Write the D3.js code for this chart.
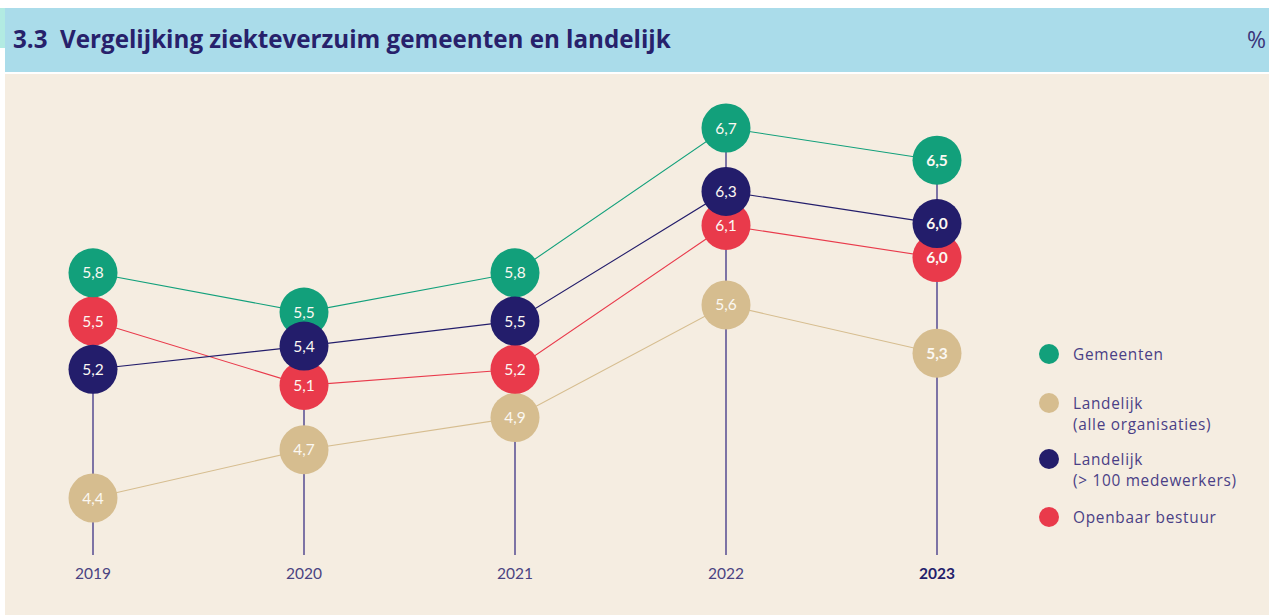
<!DOCTYPE html>
<html>
<head>
<meta charset="utf-8">
<script src="https://cdn.jsdelivr.net/npm/d3@7"></script>
<style>
  html, body { margin: 0; padding: 0; background: #ffffff; }
  svg { display: block; }
  text { font-family: Lato, "Open Sans", sans-serif; }
</style>
</head>
<body>
<svg id="chart" width="1269" height="615"></svg>
<script>
// ---- data ----
const years = ["2019", "2020", "2021", "2022", "2023"];
const gemeenten = [5.8, 5.5, 5.8, 6.7, 6.5];
const landelijkAlle = [4.4, 4.7, 4.9, 5.6, 5.3];
const landelijk100 = [5.2, 5.4, 5.5, 6.3, 6.0];
const openbaarBestuur = [5.5, 5.1, 5.2, 6.1, 6.0];
const seriesNames = ["Gemeenten", "Landelijk (alle organisaties)", "Landelijk (> 100 medewerkers)", "Openbaar bestuur"];
const legendLines = [["Gemeenten"], ["Landelijk", "(alle organisaties)"], ["Landelijk", "(> 100 medewerkers)"], ["Openbaar bestuur"]];
const title = "3.3  Vergelijking ziekteverzuim gemeenten en landelijk";
const unit = "%";

// ---- styling ----
const colors = ["#12a07b", "#d6bd8f", "#231d6b", "#e93a4b"];
const drawOrder = [1, 3, 0, 2]; // beige, red, green, navy on top
const W = 1269, H = 615;
const R = 24.5, minGap = 34;

const svg = d3.select("#chart");
svg.append("rect").attr("x", 0).attr("y", 0).attr("width", W).attr("height", H).attr("fill", "#ffffff");
// body
svg.append("rect").attr("x", 5).attr("y", 74).attr("width", W - 5).attr("height", H - 74).attr("fill", "#f5ede1");
// title bar
svg.append("rect").attr("x", 0).attr("y", 8).attr("width", 5).attr("height", 40).attr("fill", "#b2ebe2");
svg.append("rect").attr("x", 5).attr("y", 8).attr("width", W - 5).attr("height", 64).attr("fill", "#aadcea");
const titleText = svg.append("text").attr("x", 13).attr("y", 48).attr("font-size", 22).attr("font-weight", 700)
  .style("font-family", "'Open Sans', sans-serif")
  .attr("fill", "#27216b").style("white-space", "pre").text(title);
{
  const w = titleText.node().getComputedTextLength();
  titleText.attr("font-size", 22 * 658 / w);
}
svg.append("text").attr("x", 1247).attr("y", 48).attr("font-size", 23)
  .style("font-family", "'Open Sans', sans-serif")
  .attr("fill", "#3b357a").text(unit);

// ---- scales ----
const x = d3.scalePoint().domain(years).range([93, 937]);
const y = d3.scaleLinear().domain([4.4, 6.7]).range([498, 128]);
const axisY = 555;

const allSeries = [gemeenten, landelijkAlle, landelijk100, openbaarBestuur];

// compute positions with collision relaxation per year
const pos = allSeries.map(() => []);
years.forEach((yr, i) => {
  let pts = allSeries.map((s, k) => ({k, v: s[i], y: y(s[i])}));
  const rank = [0, 3, 1, 2];
  pts.sort((a, b) => (a.y - b.y) || (rank[a.k] - rank[b.k]));
  for (let it = 0; it < 50; it++) {
    let moved = false;
    for (let j = 1; j < pts.length; j++) {
      const d = pts[j].y - pts[j - 1].y;
      if (d < minGap - 0.01) {
        const push = (minGap - d) / 2;
        pts[j - 1].y -= push; pts[j].y += push; moved = true;
      }
    }
    if (!moved) break;
  }
  pts.forEach(p => { pos[p.k][i] = p.y; });
});

// vertical stems
const stems = svg.append("g");
years.forEach((yr, i) => {
  const top = d3.min(pos, p => p[i]);
  stems.append("line").attr("x1", x(yr)).attr("x2", x(yr))
    .attr("y1", top).attr("y2", axisY)
    .attr("stroke", "#4a3f8c").attr("stroke-width", 1.4);
});

// connecting lines
const line = d3.line().x(d => d[0]).y(d => d[1]);
drawOrder.forEach(k => {
  svg.append("path")
    .attr("d", line(years.map((yr, i) => [x(yr), pos[k][i]])))
    .attr("fill", "none").attr("stroke", colors[k]).attr("stroke-width", 1.1);
});

// circles + labels
const fmt = v => d3.format(".1f")(v).replace(".", ",");
drawOrder.forEach(k => {
  const g = svg.append("g");
  years.forEach((yr, i) => {
    g.append("circle").attr("cx", x(yr)).attr("cy", pos[k][i]).attr("r", R).attr("fill", colors[k]);
    g.append("text").attr("x", x(yr)).attr("y", pos[k][i] + 5.5)
      .attr("text-anchor", "middle").attr("font-size", 15.5)
      .attr("font-weight", i === years.length - 1 ? 700 : 400)
      .attr("fill", "#fbf8f2").text(fmt(allSeries[k][i]));
  });
});

// x axis labels
svg.append("g").selectAll("text").data(years).join("text")
  .attr("x", d => x(d)).attr("y", 579).attr("text-anchor", "middle")
  .attr("font-size", 15.5).attr("font-weight", (d, i) => i === years.length - 1 ? 700 : 400)
  .attr("fill", (d, i) => i === years.length - 1 ? "#231d6b" : "#4a4382").text(d => d);

// legend
const legendY = [354, 403, 459, 517];
const lg = svg.append("g");
legendLines.forEach((lines, k) => {
  lg.append("circle").attr("cx", 1049).attr("cy", legendY[k]).attr("r", 10).attr("fill", colors[k]);
  lines.forEach((t, j) => {
    lg.append("text").attr("x", 1073).attr("y", legendY[k] + 5.5 + j * 21)
      .style("font-family", "'Open Sans', sans-serif")
      .style("letter-spacing", "0.7px")
      .attr("font-size", 15.4).attr("fill", "#4a3f86").text(t);
  });
});
</script>
</body>
</html>
